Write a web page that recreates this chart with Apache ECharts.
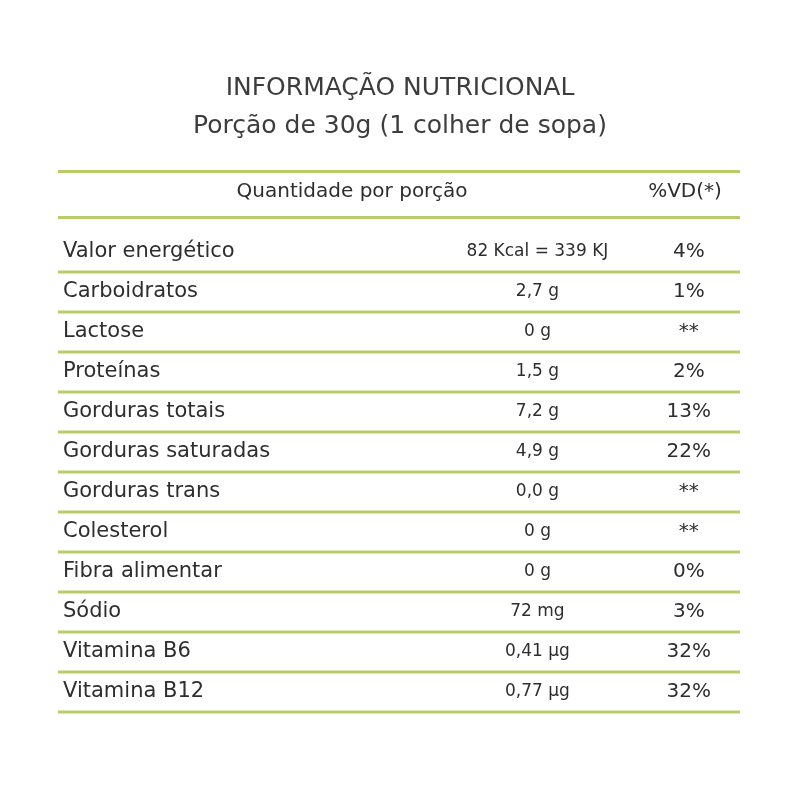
<!DOCTYPE html>
<html><head><meta charset="utf-8">
<script src="https://cdn.jsdelivr.net/npm/echarts@6/dist/echarts.min.js"></script>
<style>html,body{margin:0;background:#fff}#c{width:800px;height:800px}</style>
</head><body><div id="c"></div>
<script>
const titleLines = ['INFORMAÇÃO NUTRICIONAL', 'Porção de 30g (1 colher de sopa)'];
const headers = ['Quantidade por porção', '%VD(*)'];
const nutrients = ['Valor energético','Carboidratos','Lactose','Proteínas','Gorduras totais','Gorduras saturadas','Gorduras trans','Colesterol','Fibra alimentar','Sódio','Vitamina B6','Vitamina B12'];
const amounts = ['82 Kcal = 339 KJ','2,7 g','0 g','1,5 g','7,2 g','4,9 g','0,0 g','0 g','0 g','72 mg','0,41 µg','0,77 µg'];
const vd = ['4%','1%','**','2%','13%','22%','**','**','0%','3%','32%','32%'];

const GREEN = '#b8cc6a', TXT = '#2e2e2e', FONT = '"DejaVu Sans", sans-serif';
const chart = echarts.init(document.getElementById('c'));
chart.setOption({
  backgroundColor: '#fff',
  animation: false,
  title: {text: titleLines.join('\n'), left: 'center', top: 64,
    textStyle: {fontFamily: FONT, fontSize: 25, fontWeight: 'normal', color: '#3d3d3d', lineHeight: 38}},
  grid: {left: 58, right: 60, top: 232, bottom: 88},
  xAxis: {type: 'value', min: 0, max: 100, show: false},
  yAxis: {type: 'category', data: nutrients, inverse: true, show: false},
  graphic: [
    {type: 'rect', shape: {x: 58, y: 170, width: 682, height: 3}, style: {fill: GREEN}},
    {type: 'rect', shape: {x: 58, y: 216, width: 682, height: 3}, style: {fill: GREEN}},
    {type: 'text', x: 352, y: 192, style: {text: headers[0], fill: TXT, font: '20px ' + FONT, align: 'center', verticalAlign: 'middle'}},
    {type: 'text', x: 685, y: 192, style: {text: headers[1], fill: TXT, font: '20px ' + FONT, align: 'center', verticalAlign: 'middle'}}
  ],
  series: [{
    type: 'custom',
    data: nutrients.map((n, i) => [i]),
    renderItem: (params, api) => {
      const i = api.value(0);
      const cs = params.coordSys;
      const y = api.coord([0, i])[1];
      const h = api.size([0, 1])[1];
      return {type: 'group', children: [
        {type: 'text', x: cs.x + 5, y: y, style: {text: nutrients[i], fill: TXT, font: '21px ' + FONT, verticalAlign: 'middle'}},
        {type: 'text', x: cs.x + cs.width * 0.703, y: y, style: {text: amounts[i], fill: TXT, font: '17px ' + FONT, align: 'center', verticalAlign: 'middle'}},
        {type: 'text', x: cs.x + cs.width * 0.925, y: y, style: {text: vd[i], fill: TXT, font: '20px ' + FONT, align: 'center', verticalAlign: 'middle'}},
        {type: 'rect', shape: {x: cs.x, y: y + h / 2 - 1.5, width: cs.width, height: 3}, style: {fill: GREEN}}
      ]};
    }
  }]
});
</script></body></html>
